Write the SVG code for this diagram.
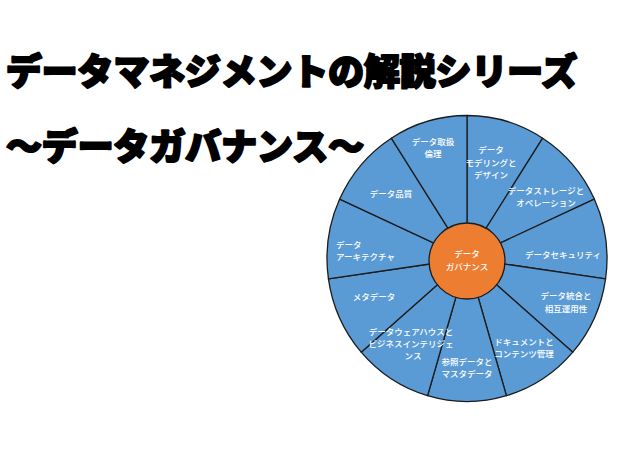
<svg xmlns="http://www.w3.org/2000/svg" width="640" height="452" viewBox="0 0 640 452">
<style>
.title{font-family:"Noto Sans CJK JP","Noto Sans",sans-serif;font-weight:900;font-size:36px;fill:#000;stroke:#000;stroke-width:2.2;stroke-linejoin:round}
.seg{fill:#5B9BD5;stroke:#1c1c1c;stroke-width:1.3;stroke-linejoin:round}
.lbl{font-family:"Noto Sans CJK JP","Noto Sans",sans-serif;font-size:8.5px;fill:#fff;text-anchor:middle;font-weight:500}
.ctr{fill:#ED7D31;stroke:#1c1c1c;stroke-width:1.3}
</style>
<rect width="640" height="452" fill="#fff"/>
<text class="title" x="6" y="85" textLength="571" lengthAdjust="spacingAndGlyphs">データマネジメントの解説シリーズ</text>
<text class="title" x="6" y="160" textLength="358" lengthAdjust="spacingAndGlyphs">〜データガバナンス〜</text>
<g id="segments">
<path id="shape-modeling" class="seg" d="M467 258.5 L467 115.5 A140 143 0 0 1 542.68 138.19 Z"/>
<path id="shape-storage" class="seg" d="M467 258.5 L542.68 138.19 A140 143 0 0 1 594.34 199.10 Z"/>
<path id="shape-security" class="seg" d="M467 258.5 L594.34 199.10 A140 143 0 0 1 605.57 278.85 Z"/>
<path id="shape-integration" class="seg" d="M467 258.5 L605.57 278.85 A140 143 0 0 1 572.80 352.15 Z"/>
<path id="shape-document" class="seg" d="M467 258.5 L572.80 352.15 A140 143 0 0 1 506.44 395.71 Z"/>
<path id="shape-master" class="seg" d="M467 258.5 L506.44 395.71 A140 143 0 0 1 427.56 395.71 Z"/>
<path id="shape-dwh" class="seg" d="M467 258.5 L427.56 395.71 A140 143 0 0 1 361.20 352.15 Z"/>
<path id="shape-metadata" class="seg" d="M467 258.5 L361.20 352.15 A140 143 0 0 1 328.43 278.85 Z"/>
<path id="shape-architecture" class="seg" d="M467 258.5 L328.43 278.85 A140 143 0 0 1 339.66 199.10 Z"/>
<path id="shape-quality" class="seg" d="M467 258.5 L339.66 199.10 A140 143 0 0 1 391.32 138.19 Z"/>
<path id="shape-ethics" class="seg" d="M467 258.5 L391.32 138.19 A140 143 0 0 1 467 115.5 Z"/>
</g>
<g id="seg-modeling"><text class="lbl" x="491" y="153">データ</text><text class="lbl" x="491" y="166">モデリングと</text><text class="lbl" x="491" y="178">デザイン</text></g>
<g id="seg-storage"><text class="lbl" x="546" y="194">データストレージと</text><text class="lbl" x="546" y="206">オペレーション</text></g>
<g id="seg-security"><text class="lbl" x="563" y="258">データセキュリティ</text></g>
<g id="seg-integration"><text class="lbl" x="566" y="299">データ統合と</text><text class="lbl" x="566" y="312">相互運用性</text></g>
<g id="seg-document"><text class="lbl" x="524" y="345">ドキュメントと</text><text class="lbl" x="524" y="357">コンテンツ管理</text></g>
<g id="seg-master"><text class="lbl" x="467" y="365">参照データと</text><text class="lbl" x="467" y="377">マスタデータ</text></g>
<g id="seg-dwh"><text class="lbl" x="411" y="335">データウェアハウスと</text><text class="lbl" x="411" y="347">ビジネスインテリジェ</text><text class="lbl" x="413" y="359">ンス</text></g>
<g id="seg-metadata"><text class="lbl" x="374" y="300">メタデータ</text></g>
<g id="seg-architecture"><text class="lbl" x="336" y="248" style="text-anchor:start">データ</text><text class="lbl" x="336" y="260" style="text-anchor:start">アーキテクチャ</text></g>
<g id="seg-quality"><text class="lbl" x="391" y="197">データ品質</text></g>
<g id="seg-ethics"><text class="lbl" x="433" y="145">データ取扱</text><text class="lbl" x="433" y="157">倫理</text></g>
<g id="center"><circle class="ctr" cx="467" cy="261" r="38"/>
<text class="lbl" x="467" y="257">データ</text><text class="lbl" x="467" y="270">ガバナンス</text></g>
</svg>
